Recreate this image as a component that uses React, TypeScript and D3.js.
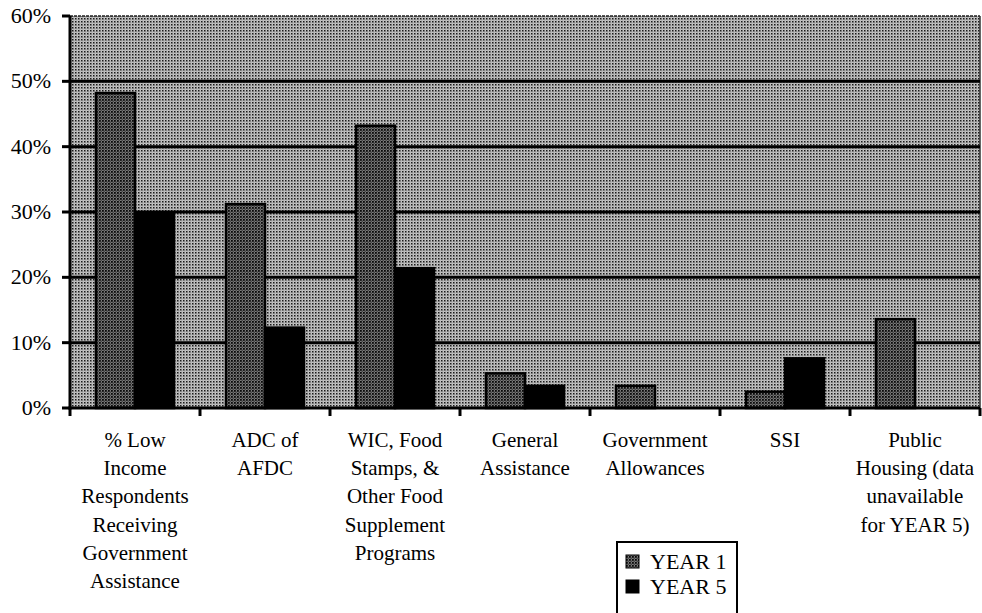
import React from 'react';
import * as d3 from 'd3';

const categories = [
  ['% Low', 'Income', 'Respondents', 'Receiving', 'Government', 'Assistance'],
  ['ADC of', 'AFDC'],
  ['WIC, Food', 'Stamps, &', 'Other Food', 'Supplement', 'Programs'],
  ['General', 'Assistance'],
  ['Government', 'Allowances'],
  ['SSI'],
  ['Public', 'Housing (data', 'unavailable', 'for YEAR 5)'],
];
const year1 = [48.2, 31.2, 43.2, 5.3, 3.4, 2.5, 13.6];
const year5 = [29.9, 12.3, 21.4, 3.4, null, 7.6, null];
const seriesNames = ['YEAR 1', 'YEAR 5'];
const yTicks = [0, 10, 20, 30, 40, 50, 60];

const W = 982;
const H = 613;
const left = 70;
const right = 980;
const top = 16;
const bottom = 408;

export default function App() {
  const keys = categories.map((c) => c.join(' '));
  const x0 = d3.scaleBand().domain(keys).range([left, right]).paddingInner(0.4).paddingOuter(0.2);
  const x1 = d3.scaleBand().domain(seriesNames).range([0, x0.bandwidth()]);
  const y = d3.scaleLinear().domain([0, 60]).range([bottom, top]);
  const step = x0.step();

  const bars: { key: string; s: string; v: number }[] = [];
  keys.forEach((k, i) => {
    if (year1[i] != null) bars.push({ key: k, s: 'YEAR 1', v: year1[i] as number });
    if (year5[i] != null) bars.push({ key: k, s: 'YEAR 5', v: year5[i] as number });
  });

  return (
    <svg
      width={W}
      height={H}
      fontFamily="Times New Roman"
      style={{ position: 'absolute', left: 0, top: 0, background: '#fff', fontFamily: 'Times New Roman' }}
    >
      <style>{`text, tspan { font-family: "Liberation Serif", "Times New Roman", serif !important; }`}</style>
      <defs>
        <pattern id="bg" width="3" height="3" patternUnits="userSpaceOnUse">
          <rect width="3" height="3" fill="#c4c4c4" />
          <rect x="0" y="0" width="1.5" height="1.5" fill="#1a1a1a" />
          <rect x="1.5" y="1.5" width="0.8" height="0.8" fill="#555" />
        </pattern>
        <pattern id="y1" width="3" height="3" patternUnits="userSpaceOnUse">
          <rect width="3" height="3" fill="#7a7a7a" />
          <rect x="0" y="0" width="1.8" height="1.8" fill="#0a0a0a" />
          <rect x="1.6" y="1.6" width="1.2" height="1.2" fill="#2a2a2a" />
        </pattern>
      </defs>

      {/* plot background */}
      <rect x={left} y={top} width={right - left} height={bottom - top} fill="url(#bg)" />
      <line x1={left} x2={right} y1={top} y2={top} stroke="#222" strokeWidth={1.5} strokeDasharray="3 1" />
      <line x1={right} x2={right} y1={top} y2={bottom} stroke="#333" strokeWidth={1.5} />

      {/* gridlines */}
      {yTicks.filter((t) => t > 0 && t < 60).map((t) => (
        <line key={t} x1={left} x2={right} y1={y(t)} y2={y(t)} stroke="#000" strokeWidth={3} />
      ))}

      {/* bars */}
      {bars.map((b, i) => (
        <rect
          key={i}
          x={(x0(b.key) as number) + (x1(b.s) as number)}
          y={y(b.v)}
          width={x1.bandwidth()}
          height={bottom - y(b.v)}
          fill={b.s === 'YEAR 1' ? 'url(#y1)' : '#000'}
          stroke="#000"
          strokeWidth={2.5}
        />
      ))}

      {/* y axis */}
      <line x1={left} x2={left} y1={top} y2={bottom + 1.5} stroke="#000" strokeWidth={3} />
      {yTicks.map((t) => (
        <g key={t} transform={`translate(0,${y(t)})`}>
          <line x1={left - 8} x2={left} stroke="#000" strokeWidth={3} />
          <text x={51} y={7} textAnchor="end" style={{ fontFamily: 'Times New Roman' }} fontSize={22} fill="#000">
            {t}%
          </text>
        </g>
      ))}

      {/* x axis */}
      <line x1={left - 1.5} x2={right} y1={bottom} y2={bottom} stroke="#000" strokeWidth={3} />
      {d3.range(keys.length + 1).map((i) => (
        <line key={i} x1={left + i * step} x2={left + i * step} y1={bottom} y2={bottom + 8} stroke="#000" strokeWidth={3} />
      ))}
      {categories.map((lines, i) =>
        lines.map((l, j) => (
          <text
            key={`${i}-${j}`}
            x={(x0(keys[i]) as number) + x0.bandwidth() / 2}
            y={447 + j * 28.2}
            textAnchor="middle"
            style={{ fontFamily: 'Times New Roman' }}
            fontSize={21}
            fill="#000"
          >
            {l}
          </text>
        ))
      )}

      {/* legend */}
      <g transform="translate(617,542)">
        <rect x={0} y={0} width={120} height={90} fill="#fff" stroke="#000" strokeWidth={2} />
        {seriesNames.map((s, i) => (
          <g key={s} transform={`translate(9,${20 + i * 25})`}>
            <rect x={0} y={-7} width={13} height={13} fill={i === 0 ? 'url(#y1)' : '#000'} stroke="#000" strokeWidth={1} />
            <text x={24} y={7} style={{ fontFamily: 'Times New Roman' }} fontSize={22} fill="#000">
              {s}
            </text>
          </g>
        ))}
      </g>
    </svg>
  );
}
